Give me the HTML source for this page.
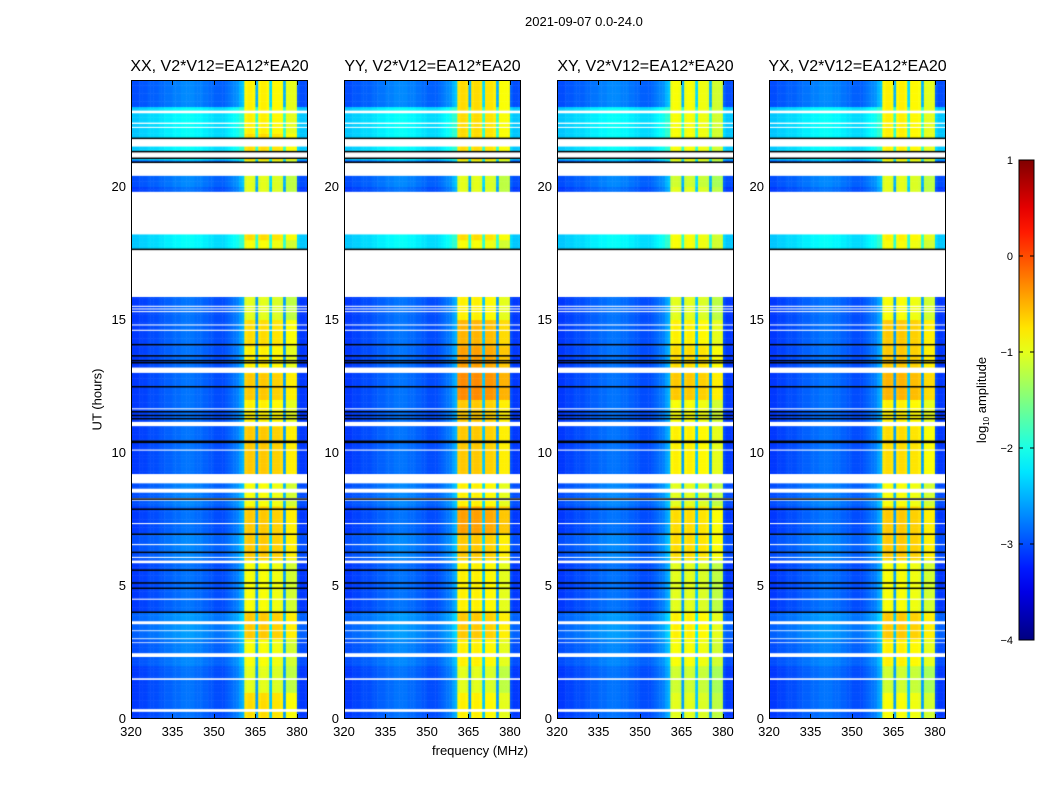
<!DOCTYPE html>
<html><head><meta charset="utf-8">
<style>
body{margin:0;background:#fff;width:1050px;height:800px;position:relative;overflow:hidden;font-family:"Liberation Sans",sans-serif;color:#000}
.abs{position:absolute}
.panel{position:absolute;top:80px;width:177px;height:639px;border:1px solid #000;box-sizing:border-box}
canvas{position:absolute;top:80px}
.t{position:absolute;font-size:13px;white-space:nowrap}
</style></head><body>
<div class="t" style="left:525px;top:14px">2021-09-07 0.0-24.0</div>
<div class="t" style="left:66px;top:392px;transform:rotate(-90deg)">UT (hours)</div>
<div class="t" style="left:432px;top:743px">frequency (MHz)</div>
<div id="root"></div>
<svg class="abs" style="left:0;top:0" width="1050" height="800" id="cb"></svg>
<script>
// ---- data ----
const panelNames = ["XX, V2*V12=EA12*EA20","YY, V2*V12=EA12*EA20","XY, V2*V12=EA12*EA20","YX, V2*V12=EA12*EA20"];
const freqBins = []; for (let f = 320; f < 384; f++) freqBins.push(f);
// column profile (log10 amplitude) per MHz bin 320..383
const colProfile = [-3.1,-3.1,-3.1,-3.05,-3.05,-3.05,-3.0,-3.0,-3.0,-3.0,-2.95,-2.95,-2.9,-2.9,-2.9,-2.85,-2.85,-2.85,-2.8,-2.8,-2.8,-2.8,-2.8,-2.85,-2.85,-2.85,-2.9,-2.9,-2.95,-2.95,-3.0,-3.0,-3.0,-3.0,-2.95,-2.9,-2.85,-2.8,-2.75,-2.6,-2.5,
  -0.95,-0.9,-0.9,-0.95,-2.6,-0.95,-0.9,-0.9,-0.95,-2.4,-0.95,-0.95,-0.95,-1.0,-2.6,-1.1,-1.1,-1.1,-1.1,-3.0,-3.1,-3.1,-3.1];
// band boost per hour (0..23) per panel
const bandXX = [0.2,-0.1,0.0,0.3,0.0,0.0,0.3,0.3,0.0,0.3,0.3,0.1,0.3,0.1,0.2,-0.1,0,0,0.2,-0.1,-0.1,0.2,0.1,0.1];
const bandYY = [0.1,-0.1,0.1,0.3,0.1,0.1,0.3,0.5,0.1,0.3,0.3,0.3,0.6,0.5,0.4,0.1,0,0,0.2,-0.1,-0.1,0.2,0.2,0.2];
const bandXY = [-0.1,-0.2,0.0,0.1,-0.1,-0.1,0.2,0.2,-0.1,0.1,0.1,0.0,0.3,0.2,0.1,-0.1,0,0,0.0,-0.1,-0.2,0.0,0.0,0.0];
const bandYX = [0.0,-0.2,0.1,0.3,0.0,0.0,0.3,0.3,0.0,0.2,0.2,0.1,0.4,0.3,0.3,0.0,0,0,0.1,-0.1,-0.1,0.1,0.1,0.1];
const bandBoost = [bandXX,bandYY,bandXY,bandYX];
// background offset per hour
const bgHour = [0.0,0.0,0.1,0.2,0.0,0.0,0.1,0.0,0.1,0.0,0.0,0.0,0.0,0.0,0.0,0.0,0,0.7,0.7,0,0.1,0.7,0.7,0.1];
const gapStart = [0.27,1.47,2.33,2.85,3.0,3.3,3.56,4.48,5.85,6.05,6.53,7.32,8.2,8.5,8.85,10.08,11.0,11.63,13.0,14.58,14.78,15.28,15.38,15.48,15.85,18.2,20.4,21.05,21.5,22.2,22.35,22.75];
const gapEnd   = [0.37,1.53,2.47,2.88,3.03,3.33,3.67,4.52,5.95,6.09,6.57,7.36,8.3,8.65,9.2,10.12,11.16,11.67,13.2,14.62,14.82,15.32,15.42,15.52,17.65,19.8,20.9,21.3,21.8,22.24,22.4,22.85];
const blackLines = [4.0,4.9,5.1,5.58,6.25,6.93,7.87,8.25,10.38,10.42,11.27,11.39,11.53,12.47,13.37,13.45,13.63,14.05,17.63,20.9,21.05,21.3,21.8];
const xTicks = [320,335,350,365,380];
const yTicks = [0,5,10,15,20];
const cbTicks = [1,0,-1,-2,-3,-4];
// ---- layout ----
const panelLeft = [131,344,557,769], PW = 177, PH = 639, TOP = 80;
const xs = f => (f - 320) / 64 * PW;
const ys = h => PH - h / 24 * PH;
function jet(v){
  let t = Math.max(0, Math.min(1, (v + 4) / 5));
  const r = Math.max(0, Math.min(1, 1.5 - Math.abs(4*t - 3)));
  const g = Math.max(0, Math.min(1, 1.5 - Math.abs(4*t - 2)));
  const b = Math.max(0, Math.min(1, 1.5 - Math.abs(4*t - 1)));
  return `rgb(${Math.round(r*255)},${Math.round(g*255)},${Math.round(b*255)})`;
}
const root = document.getElementById('root');
panelNames.forEach((name, p) => {
  const L = panelLeft[p];
  const c = document.createElement('canvas');
  
  
  c.width = PW; c.height = PH; c.style.left = L + 'px';
  root.appendChild(c);
  const ctx = c.getContext('2d');
  const steps = 240;
  for (let i = 0; i < freqBins.length; i++) {
    const f = freqBins[i], base = colProfile[i], inBand = base > -2;
    for (let k = 0; k < steps; k++) {
      const h = k * 24 / steps, hr = Math.floor(h);
      const v = inBand ? base + bandBoost[p][hr] : Math.min(base + bgHour[hr], -1.9);
      ctx.fillStyle = jet(v);
      const x0 = xs(f), x1 = xs(f + 1), y0 = ys(h + 0.1), y1 = ys(h);
      ctx.fillRect(x0, y0, x1 - x0 + 0.5, y1 - y0 + 0.5);
    }
  }
  ctx.fillStyle = '#fff';
  gapStart.forEach((s, i) => { ctx.fillRect(0, ys(gapEnd[i]), PW, ys(s) - ys(gapEnd[i])); });
  ctx.fillStyle = '#000';
  blackLines.forEach(h => ctx.fillRect(0, ys(h) - 1, PW, 1.5));
  const fr = document.createElement('div');
  fr.className = 'panel'; fr.style.left = L + 'px';
  
  
  root.appendChild(fr);
  const tt = document.createElement('div');
  tt.className = 't'; tt.textContent = name;
  tt.style.cssText = `left:${L + PW/2}px;top:58px;font-size:16px;transform:translateX(-50%)`;
  
  
  root.appendChild(tt);
  xTicks.forEach(f => {
    const d = document.createElement('div');
    d.className = 't'; d.textContent = f;
    d.style.cssText = `left:${L + xs(f)}px;top:724px;transform:translateX(-50%)`;
    
    
    root.appendChild(d);
    ['top','bottom'].forEach(side => {
      const tk = document.createElement('div');
      tk.className = 'abs';
      tk.style.cssText = `left:${L + xs(f)}px;width:1px;height:5px;background:#000;` + (side==='top'?`top:${TOP}px`:`top:${TOP+PH-5}px`);
      
      
      root.appendChild(tk);
    });
  });
  yTicks.forEach(h => {
    const d = document.createElement('div');
    d.className = 't'; d.textContent = h;
    d.style.cssText = `left:${L - 5}px;top:${TOP + ys(h) - 8}px;transform:translateX(-100%)`;
    
    
    root.appendChild(d);
  });
});
// colorbar
const cb = document.getElementById('cb');
const CBX = 1019, CBW = 15, CBT = 160, CBB = 640;
const cbY = v => CBB - (v + 4) / 5 * (CBB - CBT);
let s = '<defs><linearGradient id="jg" x1="0" y1="1" x2="0" y2="0">';
for (let i = 0; i <= 20; i++) { s += `<stop offset="${i/20}" stop-color="${jet(-4 + i/4)}"/>`; }
s += '</linearGradient></defs>';
s += `<rect x="${CBX}" y="${CBT}" width="${CBW}" height="${CBB-CBT}" fill="url(#jg)" stroke="#000" stroke-width="1"/>`;
cbTicks.forEach(v => {
  s += `<text x="${CBX-6}" y="${cbY(v)+4}" text-anchor="end" font-size="11" font-family="Liberation Sans, sans-serif">${v<0?'\u2212'+(-v):v}</text>`;
  s += `<line x1="${CBX}" x2="${CBX+4}" y1="${cbY(v)}" y2="${cbY(v)}" stroke="#000"/><line x1="${CBX+CBW-4}" x2="${CBX+CBW}" y1="${cbY(v)}" y2="${cbY(v)}" stroke="#000"/>`;
});
s += `<text transform="translate(986,400) rotate(-90)" text-anchor="middle" font-size="13" font-family="Liberation Sans, sans-serif">log<tspan font-size="8" dy="3">10</tspan><tspan dy="-3"> amplitude</tspan></text>`;
cb.innerHTML = s;
</script>
</body></html>
